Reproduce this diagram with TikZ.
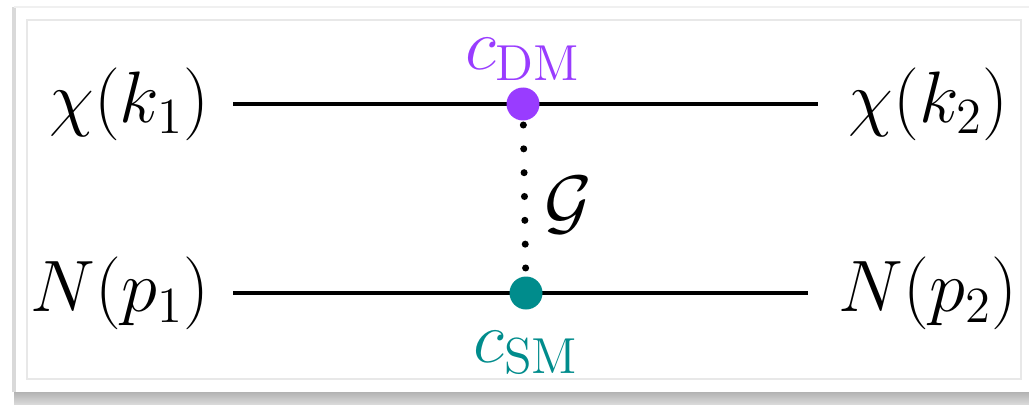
\documentclass[tikz,border=0pt]{standalone}
\usepackage{amsmath, amssymb}
\usepackage{tikz}
\usetikzlibrary{positioning}
\definecolor{DMPurple}{RGB}{153,60,255}
\definecolor{SMTeal}{RGB}{0,140,140}
\definecolor{Framegrey}{RGB}{232,232,232}

\begin{document}
\begin{tikzpicture}[
            leg/.style={line width=1.2pt, draw=black},
            extlabel/.style={font=\huge, inner xsep=8.5pt, inner ysep=0.3em},
            inlabel/.style={extlabel, inner xsep=6.5pt},
            couplabel/.style={font=\huge, inner sep=0pt},
            vertex/.style={circle, minimum size=3.3mm, inner sep=0pt},
            coupling/.style={line width=2pt, line cap=round,
                dash pattern=on 0pt off 6.78pt, dash phase=0.8pt}
        ]
            % frame and shadow
            \useasboundingbox (0,0) rectangle (10.29,4.04);
            \fill[white] (0,0) rectangle (10.29,4.04);
            \shade[top color=gray!60, bottom color=gray!30] (0.14,0) rectangle (10.29,0.12);
            \draw[gray!30, line width=1pt] (0.14,0.12) -- (0.14,3.97);
            \draw[gray!12, line width=0.8pt] (0.14,3.97) -- (10.29,3.97);
            \draw[Framegrey, line width=0.7pt] (0.27,0.25) rectangle (10.21,3.84);

            \coordinate (pDM) at (5.23,3.00);
            \coordinate (pSM) at (5.26,1.11);

            \node[inlabel, anchor=east] (chi1) at (2.33,3.00) {$\chi(k_1)$};
            \node[extlabel, anchor=west] (chi2) at (8.18,3.00) {$\chi(k_2)$};
            \node[inlabel, anchor=east] (N1) at (2.33,1.11) {$N(p_1)$};
            \node[extlabel, anchor=west] (N2) at (8.08,1.11) {$N(p_2)$};

            \draw[coupling] (pDM) -- (pSM);
            \draw[leg] (chi1) -- (chi2);
            \draw[leg] (N1) -- (N2);

            \node[vertex, fill=DMPurple] (vDM) at (pDM) {};
            \node[vertex, fill=SMTeal] (vSM) at (pSM) {};

            \node[couplabel, text=DMPurple, above=0.55mm of vDM] (cDM) {$c_{\mathrm{DM}}$};
            \node[couplabel, text=SMTeal, below=2mm of vSM] (cSM) {$c_{\mathrm{SM}}$};
            \node[font=\huge] (G) at (5.68,1.99) {$\mathcal{G}$};
        \end{tikzpicture}
\end{document}
